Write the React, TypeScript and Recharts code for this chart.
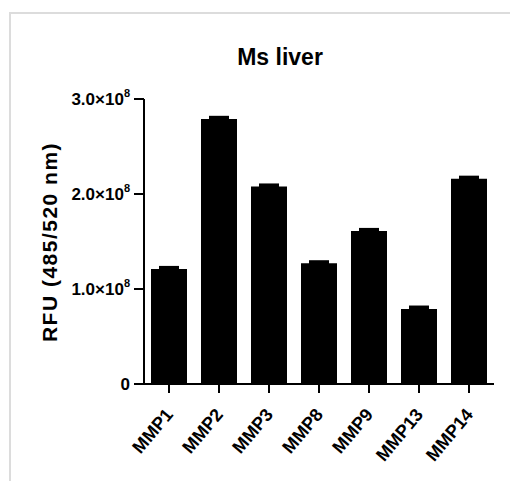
import React from "react";
import { BarChart, Bar, XAxis, YAxis, ErrorBar, Customized } from "recharts";

const categories = ["MMP1", "MMP2", "MMP3", "MMP8", "MMP9", "MMP13", "MMP14"];
const values = [1.21e8, 2.79e8, 2.08e8, 1.27e8, 1.61e8, 0.79e8, 2.16e8];
const errors = [0.012e8, 0.012e8, 0.01e8, 0.012e8, 0.012e8, 0.015e8, 0.012e8];
const yTicks = [0, 1e8, 2e8, 3e8];
const yTickLabels = ["0", "1.0×10", "2.0×10", "3.0×10"];
const title = "Ms liver";
const yLabel = "RFU (485/520 nm)";

const data = categories.map((c, i) => ({ name: c, value: values[i], err: errors[i] }));

const FONT = "'Liberation Sans', Arial, Helvetica, sans-serif";

const YTick = (props: any) => {
  const { x, y, payload, index } = props;
  const idx = yTicks.indexOf(payload.value);
  const label = yTickLabels[idx >= 0 ? idx : index];
  const isZero = payload.value === 0;
  return (
    <text
      x={x}
      y={y}
      dy={6}
      textAnchor="end"
      fontFamily={FONT}
      fontWeight="bold"
      fontSize={17}
      fill="#000"
    >
      {label}
      {!isZero && (
        <tspan fontSize={11} dy={-8}>
          8
        </tspan>
      )}
    </text>
  );
};

const XTick = (props: any) => {
  const { x, y, payload } = props;
  return (
    <g transform={`translate(${x + 5},${y + 20})`}>
      <text
        x={0}
        y={0}
        textAnchor="end"
        transform="rotate(-50)"
        fontFamily={FONT}
        fontWeight="bold"
        fontSize={18}
        fill="#000"
      >
        {payload.value}
      </text>
    </g>
  );
};

const Texts = () => (
  <g>
    <text
      x={280}
      y={65}
      textAnchor="middle"
      fontFamily={FONT}
      fontWeight="bold"
      fontSize={23}
      fill="#000"
    >
      {title}
    </text>
    <text
      x={57}
      y={242}
      textAnchor="middle"
      transform="rotate(-90, 57, 242)"
      fontFamily={FONT}
      fontWeight="bold"
      fontSize={21}
      letterSpacing={1.5}
      fill="#000"
    >
      {yLabel}
    </text>
  </g>
);

export default function App() {
  return (
    <div style={{ position: "absolute", left: 0, top: 0, width: 510, height: 481, background: "#fff" }}>
      <div
        style={{
          position: "absolute",
          left: 9,
          top: 12,
          width: 501,
          height: 469,
          borderTop: "2px solid #dcdcdc",
          borderLeft: "2px solid #dcdcdc",
          boxSizing: "border-box",
        }}
      />
      <div style={{ position: "absolute", left: 0, top: 0 }}>
        <BarChart
          width={510}
          height={481}
          data={data}
          margin={{ top: 99, right: 16, bottom: 0, left: 0 }}
          barSize={36}
        >
          <XAxis
            dataKey="name"
            height={97}
            tick={<XTick />}
            tickSize={9}
            axisLine={{ stroke: "#000", strokeWidth: 2 }}
            tickLine={{ stroke: "#000", strokeWidth: 2 }}
            interval={0}
          />
          <YAxis
            width={144}
            domain={[0, 3e8]}
            ticks={yTicks}
            tick={<YTick />}
            tickSize={10}
            tickMargin={4}
            axisLine={{ stroke: "#000", strokeWidth: 2 }}
            tickLine={{ stroke: "#000", strokeWidth: 2 }}
            interval={0}
          />
          <Bar dataKey="value" fill="#000" isAnimationActive={false}>
            <ErrorBar dataKey="err" width={10} strokeWidth={4} stroke="#000" direction="y" />
          </Bar>
          <Customized component={Texts} />
        </BarChart>
      </div>
    </div>
  );
}
